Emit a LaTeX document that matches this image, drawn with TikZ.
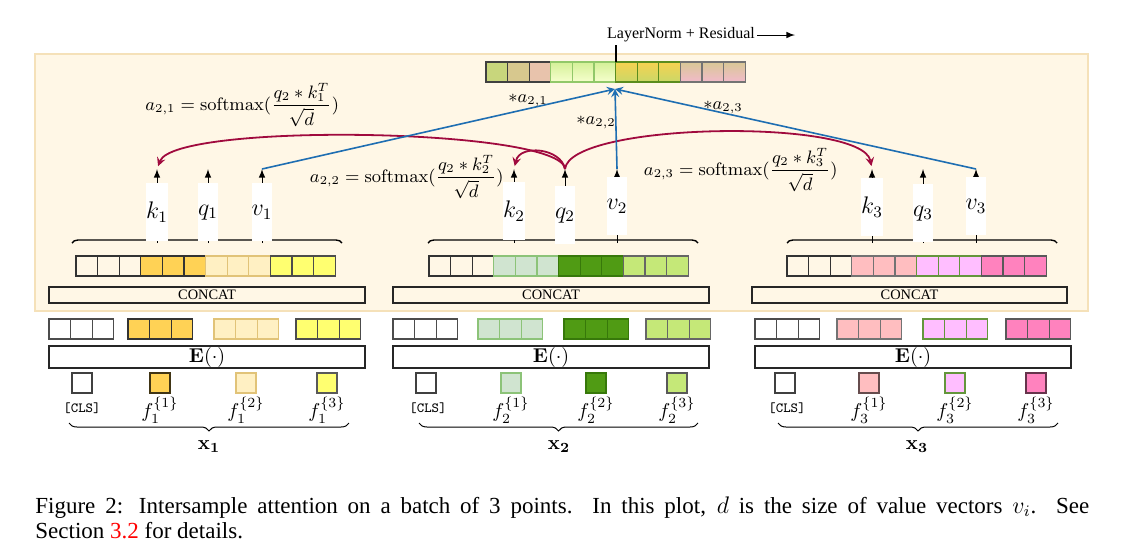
\documentclass[tikz,border=0pt]{standalone}
\usepackage[no-math]{fontspec}
\setmainfont{Liberation Serif}
\usepackage{amsmath}
\usepackage{amssymb}
\usetikzlibrary{shapes,arrows,positioning,calc,decorations.pathreplacing}

\definecolor{panel}{RGB}{255,247,230}
\definecolor{panelline}{RGB}{245,225,185}
\definecolor{attnblue}{RGB}{30,110,178}
\definecolor{attnred}{RGB}{160,10,62}
% feature colours, batch 1
\definecolor{fA}{RGB}{255,210,85}
\definecolor{fB}{RGB}{255,240,195}
\definecolor{fBd}{RGB}{225,195,120}
\definecolor{fC}{RGB}{255,255,112}
% batch 2
\definecolor{gA}{RGB}{208,228,208}
\definecolor{gAd}{RGB}{140,195,120}
\definecolor{gB}{RGB}{80,155,20}
\definecolor{gBd}{RGB}{55,120,10}
\definecolor{gC}{RGB}{197,232,120}
% batch 3
\definecolor{hA}{RGB}{255,190,192}
\definecolor{hB}{RGB}{255,190,255}
\definecolor{hBd}{RGB}{100,150,60}
\definecolor{hC}{RGB}{255,130,190}
% output bar
\definecolor{barA}{RGB}{200,214,124}
\definecolor{barB}{RGB}{215,200,142}
\definecolor{barC}{RGB}{232,195,172}
\definecolor{barGt}{RGB}{212,240,152}
\definecolor{barGb}{RGB}{246,255,205}
\definecolor{barGd}{RGB}{145,200,105}
\definecolor{barYt}{RGB}{246,210,80}
\definecolor{barYb}{RGB}{202,216,104}
\definecolor{barYd}{RGB}{90,140,30}
\definecolor{barPt}{RGB}{216,200,150}
\definecolor{barPb}{RGB}{242,186,202}

% three cells of one feature embedding
\newcommand{\featcells}[4]{%
  \foreach \c in {0,1,2}
    \draw[cell, fill=#3, draw=#4] ({#1+21.6*\c},#2) rectangle ++(21.6,20);
}

\begin{document}
\begin{tikzpicture}[x=0.5pt, y=-0.5pt,
    cell/.style={line width=0.6pt},
    sq/.style={line width=1.1pt},
    longbox/.style={draw=black!85, line width=0.6pt},
    kqv/.style={fill=white, inner sep=0pt, minimum width=10pt, minimum height=29pt, font=\large, anchor=north},
    up/.style={-latex, line width=0.5pt},
    attn/.style={-stealth, draw=attnblue, line width=0.8pt},
    score/.style={-stealth, draw=attnred, line width=0.9pt, shorten >=1.5pt},
    grp/.style={decorate, decoration={brace, amplitude=3pt}, line width=0.7pt},
    grpdown/.style={decorate, decoration={brace, mirror, amplitude=4pt}, line width=0.5pt},
    formula/.style={inner sep=0pt, font=\small}]
  \useasboundingbox (0,0) rectangle (1138,558);

  % Attention panel
  \draw[fill=panel, draw=panelline, line width=0.8pt] (35,54) rectangle (1088,311);

  % Output bar
  \foreach \c/\fc in {0/barA,1/barB,2/barC}
    \draw[cell, fill=\fc, draw=black!75] ({486+21.6*\c},62) rectangle ++(21.6,20);
  \foreach \c in {3,4,5}
    \draw[cell, top color=barGt, bottom color=barGb, draw=barGd] ({486+21.6*\c},62) rectangle ++(21.6,20);
  \foreach \c in {6,7,8}
    \draw[cell, top color=barYt, bottom color=barYb, draw=barYd] ({486+21.6*\c},62) rectangle ++(21.6,20);
  \foreach \c in {9,10,11}
    \draw[cell, top color=barPt, bottom color=barPb, draw=black!55] ({486+21.6*\c},62) rectangle ++(21.6,20);
  \node[font=\footnotesize, inner sep=1pt] (ln) at (681,35) {LayerNorm + Residual};
  \coordinate (lnout) at (795,35);
  \coordinate (bartop) at (616,62);
  \draw[-latex, line width=0.5pt] (ln.east) -- (lnout);
  \draw[line width=0.6pt] (bartop) -- (bartop |- ln.south);

  % Batch 1
  \featcells{76}{256}{none}{black!80}
  \featcells{140.8}{256}{fA}{black!80}
  \featcells{205.6}{256}{fB}{fBd}
  \featcells{270.4}{256}{fC}{black!70}
  \draw[grp] (72,243) -- (342,243);
  \node[longbox, minimum width=158pt, minimum height=8pt, inner sep=0pt, font=\fontsize{7.2}{8}\selectfont] (cat1) at (207,295) {CONCAT};
  \featcells{49}{319}{white}{black!70}
  \featcells{128}{319}{fA}{black!80}
  \featcells{214}{319}{fB}{fBd}
  \featcells{296}{319}{fC}{black!70}
  \node[longbox, minimum width=158pt, minimum height=11pt, inner sep=0pt] (emb1) at (207,357) {$\mathbf{E}(\cdot)$};
  \draw[sq, fill=white, draw=black!75] (72,373) rectangle ++(20,20);
  \draw[sq, fill=fA, draw=black!75!fA] (150,373) rectangle ++(20,20);
  \draw[sq, fill=fB, draw=fBd] (236,373) rectangle ++(20,20);
  \draw[sq, fill=fC, draw=black!65] (317,373) rectangle ++(20,20);
  \node (cls1) at (82,408) {\scriptsize\ttfamily [CLS]};
  \node (f11) at (160,410) {$f_1^{\{1\}}$};
  \node (f12) at (246,410) {$f_1^{\{2\}}$};
  \node (f13) at (327,410) {$f_1^{\{3\}}$};
  \draw[grpdown] (69,423) -- (349,423);
  \node (x1) at (209,447) {$\mathbf{x_1}$};

  % Batch 2
  \featcells{429}{256}{none}{black!80}
  \featcells{493.8}{256}{gA}{gAd}
  \featcells{558.6}{256}{gB}{gBd}
  \featcells{623.4}{256}{gC}{black!60}
  \draw[grp] (428,243) -- (698,243);
  \node[longbox, minimum width=158pt, minimum height=8pt, inner sep=0pt, font=\fontsize{7.2}{8}\selectfont] (cat2) at (551,295) {CONCAT};
  \featcells{393}{319}{white}{black!70}
  \featcells{478}{319}{gA}{gAd}
  \featcells{564}{319}{gB}{gBd}
  \featcells{646}{319}{gC}{black!60}
  \node[longbox, minimum width=158pt, minimum height=11pt, inner sep=0pt] (emb2) at (551,357) {$\mathbf{E}(\cdot)$};
  \draw[sq, fill=white, draw=black!75] (416,373) rectangle ++(20,20);
  \draw[sq, fill=gA, draw=gAd] (501,373) rectangle ++(20,20);
  \draw[sq, fill=gB, draw=gBd] (586,373) rectangle ++(20,20);
  \draw[sq, fill=gC, draw=black!65] (667,373) rectangle ++(20,20);
  \node (cls2) at (428,408) {\scriptsize\ttfamily [CLS]};
  \node (f21) at (511,410) {$f_2^{\{1\}}$};
  \node (f22) at (596,410) {$f_2^{\{2\}}$};
  \node (f23) at (677,410) {$f_2^{\{3\}}$};
  \draw[grpdown] (419,423) -- (698,423);
  \node (x2) at (559,447) {$\mathbf{x_2}$};

  % Batch 3
  \featcells{787}{256}{none}{black!80}
  \featcells{851.8}{256}{hA}{black!55}
  \featcells{916.6}{256}{hB}{hBd}
  \featcells{981.4}{256}{hC}{black!65}
  \draw[grp] (787,243) -- (1057,243);
  \node[longbox, minimum width=157.5pt, minimum height=8pt, inner sep=0pt, font=\fontsize{7.2}{8}\selectfont] (cat3) at (909.5,295) {CONCAT};
  \featcells{755}{319}{white}{black!70}
  \featcells{837}{319}{hA}{black!55}
  \featcells{923}{319}{hB}{hBd}
  \featcells{1006}{319}{hC}{black!65}
  \node[longbox, minimum width=158pt, minimum height=11pt, inner sep=0pt] (emb3) at (913,357) {$\mathbf{E}(\cdot)$};
  \draw[sq, fill=white, draw=black!75] (775,373) rectangle ++(20,20);
  \draw[sq, fill=hA, draw=black!60!hA] (859,373) rectangle ++(20,20);
  \draw[sq, fill=hB, draw=hBd] (945,373) rectangle ++(20,20);
  \draw[sq, fill=hC, draw=black!60!hC] (1026,373) rectangle ++(20,20);
  \node (cls3) at (787,408) {\scriptsize\ttfamily [CLS]};
  \node (f31) at (869,410) {$f_3^{\{1\}}$};
  \node (f32) at (955,410) {$f_3^{\{2\}}$};
  \node (f33) at (1036,410) {$f_3^{\{3\}}$};
  \draw[grpdown] (778,423) -- (1058,423);
  \node (x3) at (917,447) {$\mathbf{x_3}$};

  % Keys, queries, values
  \foreach \n/\x in {k1/157,q1/208,v1/262,k2/514,q2/565,v2/617,k3/872,q3/923,v3/976} {
    \coordinate (\n b) at (\x,243);
    \coordinate (\n t) at (\x,169);
    \draw[up] (\n b) -- (\n t);
  }
  \node[kqv] (k1) at (157,183) {$k_1$};
  \node[kqv] (q1) at (208,183) {$q_1$};
  \node[kqv] (v1) at (262,183) {$v_1$};
  \node[kqv] (k2) at (514,182) {$k_2$};
  \node[kqv] (q2) at (565,186) {$q_2$};
  \node[kqv] (v2) at (617,177) {$v_2$};
  \node[kqv] (k3) at (872,178) {$k_3$};
  \node[kqv] (q3) at (923,184) {$q_3$};
  \node[kqv] (v3) at (976,177) {$v_3$};

  % Attention scores of query 2
  \node[formula, anchor=west] (a21) at (145,105) {$a_{2,1} = \mathrm{softmax}(\dfrac{q_2 * k_1^T}{\sqrt{d}})$};
  \node[formula, anchor=east] (a22) at (504,177) {$a_{2,2} = \mathrm{softmax}(\dfrac{q_2 * k_2^T}{\sqrt{d}})$};
  \node[formula, anchor=east] (a23) at (838,170) {$a_{2,3} = \mathrm{softmax}(\dfrac{q_2 * k_3^T}{\sqrt{d}})$};
  \draw[score] (q2t) .. controls (562,128) and (175,122) .. (k1t);
  \draw[score] (q2t) .. controls (561,148) and (520,144) .. (k2t);
  \draw[score] (q2t) .. controls (570,122) and (862,118) .. (k3t);

  % Weighted values
  \coordinate (attn) at (615,89);
  \draw[attn] (v1t) -- (attn);
  \draw[attn] (v2t) -- (attn);
  \draw[attn] (v3t) -- (attn);
  \node[font=\small] (w21) at (528,100) {$*a_{2,1}$};
  \node[font=\small] (w22) at (596,122) {$*a_{2,2}$};
  \node[font=\small] (w23) at (723,107) {$*a_{2,3}$};

  % Caption
  \node[anchor=north west, text width=527pt, align=justify, inner sep=0pt, font=\fontsize{11.5}{12.5}\selectfont] (cap) at (35,496)
    {Figure 2: Intersample attention on a batch of 3 points. In this plot, $d$ is the size of value vectors $v_i$. See\linebreak
     Section {\color{red}3.2} for details.};
\end{tikzpicture}
\end{document}
